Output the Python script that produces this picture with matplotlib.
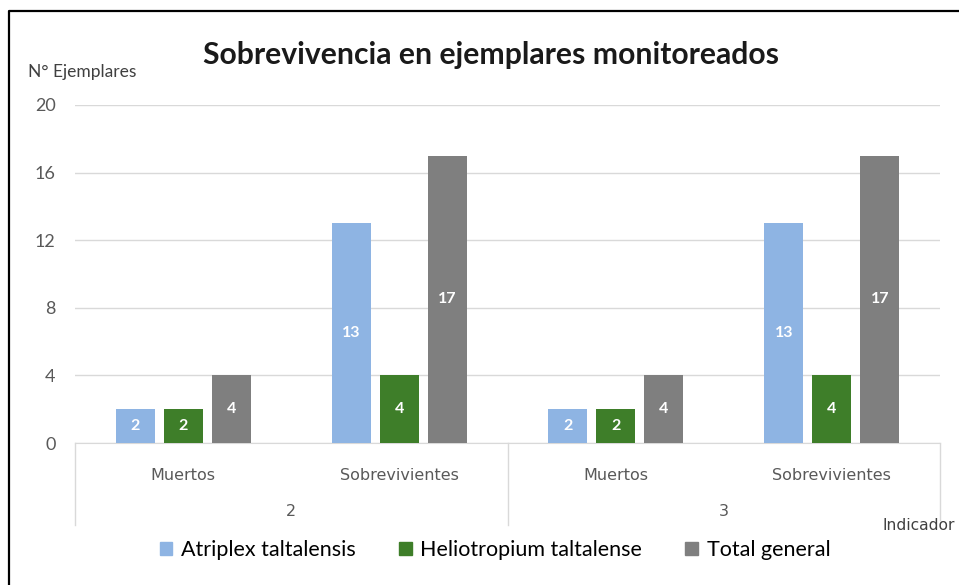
import numpy as np
import matplotlib.pyplot as plt
from matplotlib.lines import Line2D
from matplotlib.patches import Patch
import matplotlib.transforms as mtransforms

# Data
categorias = ["Muertos", "Sobrevivientes", "Muertos", "Sobrevivientes"]
grupos = ["2", "3"]
series = ["Atriplex taltalensis", "Heliotropium taltalense", "Total general"]
atriplex = [2, 13, 2, 13]
heliotropium = [2, 4, 2, 4]
total = [4, 17, 4, 17]
colores = ["#8EB4E3", "#3E7E29", "#7F7F7F"]

plt.rcParams['font.family'] = ['Lato', 'DejaVu Sans']

fig = plt.figure(figsize=(9.59, 5.85), dpi=100)
ax = fig.add_axes([75/959, 1 - 443/585, 865/959, 338/585])

x = np.arange(len(categorias))
ancho = 0.18
paso = 0.222
for i, (vals, col, nom) in enumerate(zip([atriplex, heliotropium, total], colores, series)):
    b = ax.bar(x + (i - 1)*paso, vals, ancho, color=col, label=nom, zorder=3)
    ax.bar_label(b, label_type='center', color='white', fontsize=11.5, fontweight='bold')

ax.set_xlim(-0.5, 3.5)
ax.set_ylim(0, 20)
ax.set_yticks(np.arange(0, 21, 4))
ax.grid(axis='y', color='#d9d9d9', linewidth=1, zorder=0)
for s in ['top', 'right', 'left']:
    ax.spines[s].set_visible(False)
ax.spines['bottom'].set_color('#d9d9d9')
ax.tick_params(axis='y', length=0, labelsize=13, labelcolor='#595959', pad=14)
ax.set_xticks(x)
ax.set_xticklabels(categorias, family='DejaVu Sans', fontsize=11.5, color='#595959')
ax.tick_params(axis='x', length=0, pad=18)

# separadores de grupos bajo el eje
tr = mtransforms.blended_transform_factory(ax.transData, ax.transAxes)
for xs, yb in [(-0.5, -0.243), (1.5, -0.243), (3.5, -0.228)]:
    ax.plot([xs, xs], [0, yb], color='#d9d9d9', linewidth=1, transform=tr, clip_on=False)
for g, xc in zip(grupos, [0.5, 2.5]):
    ax.text(xc, -0.204, g, transform=tr, ha='center', va='center',
            family='DejaVu Sans', fontsize=11.5, color='#595959')

fig.text(882/959, 1 - 525/585, "Indicador", family='DejaVu Sans', fontsize=11.2,
         color='#404040', va='center', ha='left')
fig.text(28/959, 1 - 72/585, "N° Ejemplares", fontsize=12.5, color='#404040', va='center')
fig.text(491/959, 1 - 55/585, "Sobrevivencia en ejemplares monitoreados",
         fontsize=21.7, fontweight='bold', color='#1a1a1a', ha='center', va='center')

handles = [Patch(color=c, label=n) for c, n in zip(colores, series)]
fig.legend(handles=handles, loc='center', bbox_to_anchor=(495/959, 1 - 550/585), ncol=3,
           frameon=False, fontsize=15.5, handlelength=0.6, handleheight=0.6,
           handletextpad=0.4, columnspacing=2.0)

# marco
fig.add_artist(Line2D([9/959, 9/959, 1], [0, 1 - 11/585, 1 - 11/585],
                      transform=fig.transFigure, color='black', linewidth=1.6))

plt.savefig("out.png", dpi=100)
